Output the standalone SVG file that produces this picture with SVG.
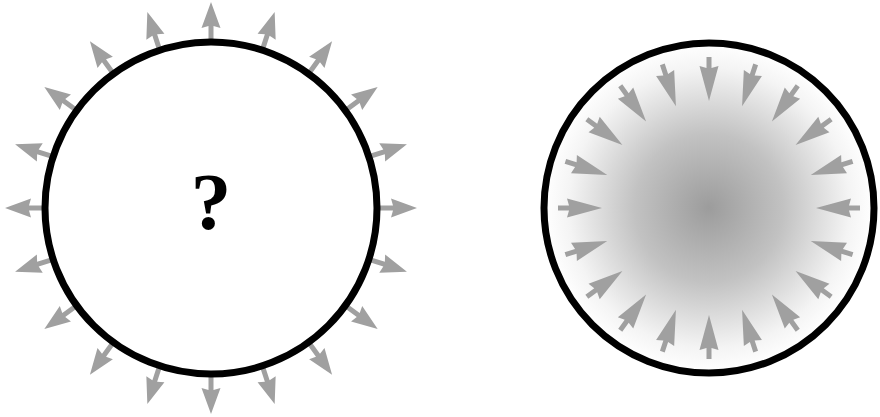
<svg xmlns="http://www.w3.org/2000/svg" xmlns:xlink="http://www.w3.org/1999/xlink" width="880" height="417" viewBox="0 0 880 417">
<style>
.arrow{fill:#a0a0a0;}
.ring{fill:none;stroke:#000;stroke-width:7;}
.q{font-family:"Liberation Serif","Times New Roman",serif;font-weight:bold;font-size:81px;fill:#000;}
</style>
<defs>
<radialGradient id="shade" cx="0.5" cy="0.5" r="0.5">
<stop offset="0" stop-color="#9c9c9c"/>
<stop offset="0.45" stop-color="#c2c2c2"/>
<stop offset="0.85" stop-color="#f4f4f4"/>
<stop offset="1" stop-color="#ffffff"/>
</radialGradient>
<path id="out" class="arrow" d="M -2.5 -166 V -182 L -9.5 -180 L 0 -206 L 9.5 -180 L 2.5 -182 V -166 Z"/>
<path id="in" class="arrow" d="M -2.5 -151 V -140 L -9.5 -142 L 0 -107 L 9.5 -142 L 2.5 -140 V -151 Z"/>
</defs>
<g id="outward-sphere">
<g transform="translate(211,208)">
<use xlink:href="#out" transform="rotate(0)"/>
<use xlink:href="#out" transform="rotate(18)"/>
<use xlink:href="#out" transform="rotate(36)"/>
<use xlink:href="#out" transform="rotate(54)"/>
<use xlink:href="#out" transform="rotate(72)"/>
<use xlink:href="#out" transform="rotate(90)"/>
<use xlink:href="#out" transform="rotate(108)"/>
<use xlink:href="#out" transform="rotate(126)"/>
<use xlink:href="#out" transform="rotate(144)"/>
<use xlink:href="#out" transform="rotate(162)"/>
<use xlink:href="#out" transform="rotate(180)"/>
<use xlink:href="#out" transform="rotate(198)"/>
<use xlink:href="#out" transform="rotate(216)"/>
<use xlink:href="#out" transform="rotate(234)"/>
<use xlink:href="#out" transform="rotate(252)"/>
<use xlink:href="#out" transform="rotate(270)"/>
<use xlink:href="#out" transform="rotate(288)"/>
<use xlink:href="#out" transform="rotate(306)"/>
<use xlink:href="#out" transform="rotate(324)"/>
<use xlink:href="#out" transform="rotate(342)"/>
<circle class="ring" cx="0" cy="0" r="166" fill="#fff"/>
</g>
<text class="q" x="211" y="229" text-anchor="middle">?</text>
</g>
<g id="inward-sphere">
<g transform="translate(709,208)">
<circle cx="0" cy="0" r="165" fill="url(#shade)"/>
<use xlink:href="#in" transform="rotate(0)"/>
<use xlink:href="#in" transform="rotate(18)"/>
<use xlink:href="#in" transform="rotate(36)"/>
<use xlink:href="#in" transform="rotate(54)"/>
<use xlink:href="#in" transform="rotate(72)"/>
<use xlink:href="#in" transform="rotate(90)"/>
<use xlink:href="#in" transform="rotate(108)"/>
<use xlink:href="#in" transform="rotate(126)"/>
<use xlink:href="#in" transform="rotate(144)"/>
<use xlink:href="#in" transform="rotate(162)"/>
<use xlink:href="#in" transform="rotate(180)"/>
<use xlink:href="#in" transform="rotate(198)"/>
<use xlink:href="#in" transform="rotate(216)"/>
<use xlink:href="#in" transform="rotate(234)"/>
<use xlink:href="#in" transform="rotate(252)"/>
<use xlink:href="#in" transform="rotate(270)"/>
<use xlink:href="#in" transform="rotate(288)"/>
<use xlink:href="#in" transform="rotate(306)"/>
<use xlink:href="#in" transform="rotate(324)"/>
<use xlink:href="#in" transform="rotate(342)"/>
<circle class="ring" cx="0" cy="0" r="165"/>
</g>
</g>
<g id="connectors"/>
</svg>
